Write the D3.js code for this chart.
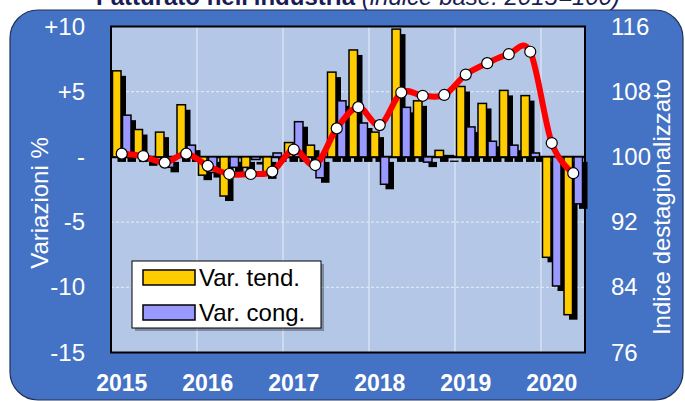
<!DOCTYPE html>
<html lang="it">
  <head>
    <meta charset="UTF-8" />
    <title>Fatturato nell'industria</title>
    <script src="https://d3js.org/d3.v7.min.js"></script>
    <style>
      body { margin: 0; background: #ffffff; }
      svg text { font-family: "Liberation Sans", Arial, sans-serif; }
      .tick line, .domain { display: none; }
    </style>
  </head>
  <body>
    <svg width="685" height="401"></svg>
    <script>
      // trimestri 2015-2020
      var trimestri = [
        "2015-1", "2015-2", "2015-3", "2015-4",
        "2016-1", "2016-2", "2016-3", "2016-4",
        "2017-1", "2017-2", "2017-3", "2017-4",
        "2018-1", "2018-2", "2018-3", "2018-4",
        "2019-1", "2019-2", "2019-3", "2019-4",
        "2020-1", "2020-2"
      ];
      var varTend = [6.6, 2.1, 1.9, 4.0, -1.4, -3.0, -0.8, -1.3, 1.1, 0.9, 6.5, 8.2,
                     1.9, 9.8, 4.3, 0.5, 5.4, 4.1, 5.1, 4.7, -7.7, -12.1];
      var varCong = [3.2, -0.3, -0.8, 0.9, -1.2, -0.8, -0.2, 0.3, 2.7, -1.6, 4.3, 2.6,
                     -2.1, 3.8, -0.4, 0.1, 2.3, 1.2, 0.9, 0.3, -9.9, -3.6];
      var indice = [100.4, 100.1, 99.3, 100.4, 98.9, 97.9, 97.9, 98.2, 100.9, 99.0, 103.5, 106.1,
                    103.9, 107.9, 107.5, 107.6, 110.1, 111.5, 112.6, 112.9, 101.7, 98.0];

      var tickSin = [10, 5, 0, -5, -10, -15];
      var labelSin = ["+10", "+5", "-", "-5", "-10", "-15"];
      var tickDes = [116, 108, 100, 92, 84, 76];
      var serie = ["tend", "cong"];
      var nomiSerie = ["Var. tend.", "Var. cong."];
      var colori = ["#ffcc00", "#9999ff"];

      var svg = d3.select("svg");
      var pLeft = 111, pRight = 585, pTop = 26.5, pBottom = 352.5;

      var x = d3.scaleBand().domain(trimestri).range([pLeft, pRight - 1]);
      var x1 = d3.scaleBand().domain(serie).range([0, x.bandwidth()])
        .paddingInner(0.15).paddingOuter(0.15);
      var y = d3.scaleLinear().domain([-15, 10]).range([pBottom, pTop]);
      var y2 = d3.scaleLinear().domain([76, 116]).range([pBottom, pTop]);

      // pannello blu
      svg.append("rect")
        .attr("x", 10).attr("y", 10)
        .attr("width", 673).attr("height", 390)
        .attr("rx", 28)
        .attr("fill", "#4472c4")
        .attr("stroke", "#1f2f55")
        .attr("stroke-width", 1.2);

      // titolo
      var title = svg.append("text")
        .attr("x", 358).attr("y", 5)
        .attr("text-anchor", "middle")
        .attr("font-size", "24px")
        .attr("fill", "#1b1b55");
      title.append("tspan").attr("font-weight", "bold").text("Fatturato nell'industria");
      title.append("tspan").attr("font-style", "italic").text(" (indice base: 2015=100)");

      // area del grafico
      svg.append("rect")
        .attr("x", pLeft).attr("y", pTop)
        .attr("width", pRight - pLeft).attr("height", pBottom - pTop)
        .attr("fill", "#b4c7e7");

      var g = svg.append("g");

      // griglia
      g.selectAll(".vgrid")
        .data(trimestri.filter(function (d, i) { return i > 0 && d.slice(5) == "1"; }))
        .enter().append("line")
        .attr("x1", function (d) { return x(d); })
        .attr("x2", function (d) { return x(d); })
        .attr("y1", pTop).attr("y2", pBottom)
        .attr("stroke", "#e8eef8").attr("stroke-width", 1);

      g.selectAll(".hgrid")
        .data([5, -5, -10])
        .enter().append("line")
        .attr("x1", pLeft).attr("x2", pRight)
        .attr("y1", function (d) { return y(d); })
        .attr("y2", function (d) { return y(d); })
        .attr("stroke", "#e8eef8").attr("stroke-width", 1)
        .attr("stroke-dasharray", "3,2");

      var barre = [];
      trimestri.forEach(function (q, i) {
        barre.push({ q: q, s: "tend", v: varTend[i], c: colori[0] });
        barre.push({ q: q, s: "cong", v: varCong[i], c: colori[1] });
      });

      // ombre
      g.selectAll(".ombra")
        .data(barre)
        .enter().append("rect")
        .attr("x", function (d) { return x(d.q) + x1(d.s) + 5; })
        .attr("y", function (d) { return y(Math.max(d.v, 0)) + 5; })
        .attr("width", x1.bandwidth())
        .attr("height", function (d) { return Math.abs(y(d.v) - y(0)); })
        .attr("fill", "#000");

      // linea dello zero
      g.append("line")
        .attr("x1", pLeft).attr("x2", pRight)
        .attr("y1", y(0)).attr("y2", y(0))
        .attr("stroke", "#000").attr("stroke-width", 2.5);

      g.selectAll(".barra")
        .data(barre)
        .enter().append("rect")
        .attr("x", function (d) { return x(d.q) + x1(d.s); })
        .attr("y", function (d) { return y(Math.max(d.v, 0)); })
        .attr("width", x1.bandwidth())
        .attr("height", function (d) { return Math.abs(y(d.v) - y(0)); })
        .attr("fill", function (d) { return d.c; })
        .attr("stroke", "#000").attr("stroke-width", 1.5);

      // indice destagionalizzato
      var linea = d3.line()
        .x(function (d, i) { return x(trimestri[i]) + x.bandwidth() / 2; })
        .y(function (d) { return y2(d); })
        .curve(d3.curveCatmullRom.alpha(0));

      g.append("path")
        .datum(indice)
        .attr("d", linea)
        .attr("fill", "none")
        .attr("stroke", "#ff0000")
        .attr("stroke-width", 6)
        .attr("stroke-linejoin", "round");

      g.selectAll(".punto")
        .data(indice)
        .enter().append("circle")
        .attr("cx", function (d, i) { return x(trimestri[i]) + x.bandwidth() / 2; })
        .attr("cy", function (d) { return y2(d); })
        .attr("r", 5.5)
        .attr("fill", "#fff")
        .attr("stroke", "#000").attr("stroke-width", 1.2);

      // bordo
      svg.append("rect")
        .attr("x", pLeft).attr("y", pTop)
        .attr("width", pRight - pLeft).attr("height", pBottom - pTop)
        .attr("fill", "none")
        .attr("stroke", "#000").attr("stroke-width", 2);

      // assi
      svg.append("g")
        .attr("transform", "translate(" + pLeft + ",0)")
        .call(d3.axisLeft(y).tickValues(tickSin).tickSize(0).tickPadding(26)
          .tickFormat(function (d) { return labelSin[tickSin.indexOf(d)]; }));

      svg.append("g")
        .attr("transform", "translate(" + pRight + ",0)")
        .call(d3.axisRight(y2).tickValues(tickDes).tickSize(0).tickPadding(26));

      var axB = svg.append("g")
        .attr("transform", "translate(0," + pBottom + ")")
        .call(d3.axisBottom(x)
          .tickValues(trimestri.filter(function (d) { return d.slice(5) == "1"; }))
          .tickSize(0).tickPadding(22)
          .tickFormat(function (d) { return d.slice(0, 4); }));

      svg.selectAll(".tick text")
        .attr("fill", "#fff")
        .attr("font-size", "24px")
        .attr("font-family", "Liberation Sans, Arial, sans-serif");
      axB.selectAll("text").attr("font-weight", "bold").attr("font-size", "23px");

      svg.append("text")
        .attr("transform", "translate(40,203) rotate(-90)")
        .attr("text-anchor", "middle").attr("dy", "0.35em")
        .attr("font-size", "24px").attr("fill", "#fff")
        .text("Variazioni %");

      svg.append("text")
        .attr("transform", "translate(662,207) rotate(-90)")
        .attr("text-anchor", "middle").attr("dy", "0.35em")
        .attr("font-size", "24px").attr("fill", "#fff")
        .text("Indice destagionalizzato");

      // legenda
      var leg = svg.append("g").attr("transform", "translate(132,261)");
      leg.append("rect")
        .attr("x", 3).attr("y", 3).attr("width", 189).attr("height", 67)
        .attr("fill", "rgba(0,0,0,0.3)");
      leg.append("rect")
        .attr("width", 189).attr("height", 67)
        .attr("fill", "#fff").attr("stroke", "#000").attr("stroke-width", 1);
      var voci = leg.selectAll(".voce")
        .data(nomiSerie)
        .enter().append("g")
        .attr("transform", function (d, i) { return "translate(0," + i * 35 + ")"; });
      voci.append("rect")
        .attr("x", 11).attr("y", 9).attr("width", 52).attr("height", 15)
        .attr("fill", function (d, i) { return colori[i]; })
        .attr("stroke", "#000").attr("stroke-width", 1.5);
      voci.append("text")
        .attr("x", 67).attr("y", 25)
        .attr("font-size", "24px").attr("fill", "#000")
        .text(function (d) { return d; });
    </script>
  </body>
</html>
